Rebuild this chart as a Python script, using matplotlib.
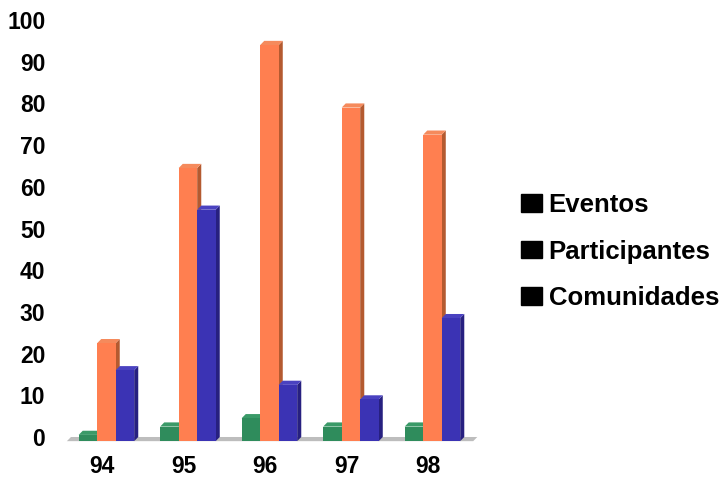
import matplotlib.pyplot as plt
from matplotlib.patches import Patch

years = ["94", "95", "96", "97", "98"]
series = ["Eventos", "Participantes", "Comunidades"]
eventos = [1.5, 3.5, 5.5, 3.5, 3.5]
participantes = [23.5, 65.5, 95, 80, 73.5]
comunidades = [17, 55.5, 13.5, 10, 29.5]

front_colors = ["#2f8c5c", "#ff7f50", "#3b33b4"]
side_colors = ["#1e6642", "#b45a30", "#272080"]
top_colors = ["#3a9a68", "#f58a5c", "#4a42c0"]

w = 0.227   # bar width
dx = 0.05   # depth offset in x
dy = 1.0    # depth offset in y

fig = plt.figure(figsize=(7.2, 4.79), dpi=100)
ax = fig.add_axes([62 / 720, 31 / 479, 420 / 720, 443 / 479])
ax.set_xlim(-0.595, 4.558)
ax.set_ylim(-2.64, 103.6)

# floor strip
ax.fill([-0.485, 4.5, 4.5 - dx, -0.485 - dx], [0, 0, -dy, -dy],
        color="#bdbdbd", lw=0, zorder=1)

data = [eventos, participantes, comunidades]
z = 2
for i in range(len(years)):
    for k in range(len(series)):
        v = data[k][i]
        left = i + (k - 1.5) * w - dx
        right = left + w
        # side face
        ax.fill([right, right + dx, right + dx, right],
                [-dy, 0, v, v - dy], color=side_colors[k], lw=0, zorder=z)
        # top face
        ax.fill([left, left + dx, right + dx, right],
                [v - dy, v, v, v - dy], color=top_colors[k], lw=0, zorder=z)
        # front face
        ax.bar(left, v, width=w, bottom=-dy, align="edge",
               color=front_colors[k], lw=0, zorder=z)
        z += 1

ax.set_yticks(range(0, 101, 10))
ax.set_xticks([i - 0.1 for i in range(len(years))])
ax.set_xticklabels(years)
for s in ax.spines.values():
    s.set_visible(False)
ax.tick_params(axis="y", length=0, pad=12)
ax.tick_params(axis="x", length=0, pad=5)
for lbl in ax.get_xticklabels() + ax.get_yticklabels():
    lbl.set_fontfamily("Liberation Sans")
    lbl.set_fontweight("bold")
    lbl.set_fontsize(16.5)

handles = [Patch(color="black") for _ in series]
fig.legend(handles, series, loc="upper left",
           bbox_to_anchor=(521 / 720, 1 - 193 / 479),
           frameon=False, borderpad=0, borderaxespad=0,
           handlelength=0.8, handleheight=0.68, handletextpad=0.28,
           labelspacing=0.88,
           prop={"family": "Liberation Sans", "weight": "bold", "size": 18.5})

plt.savefig("out.png", dpi=100)
